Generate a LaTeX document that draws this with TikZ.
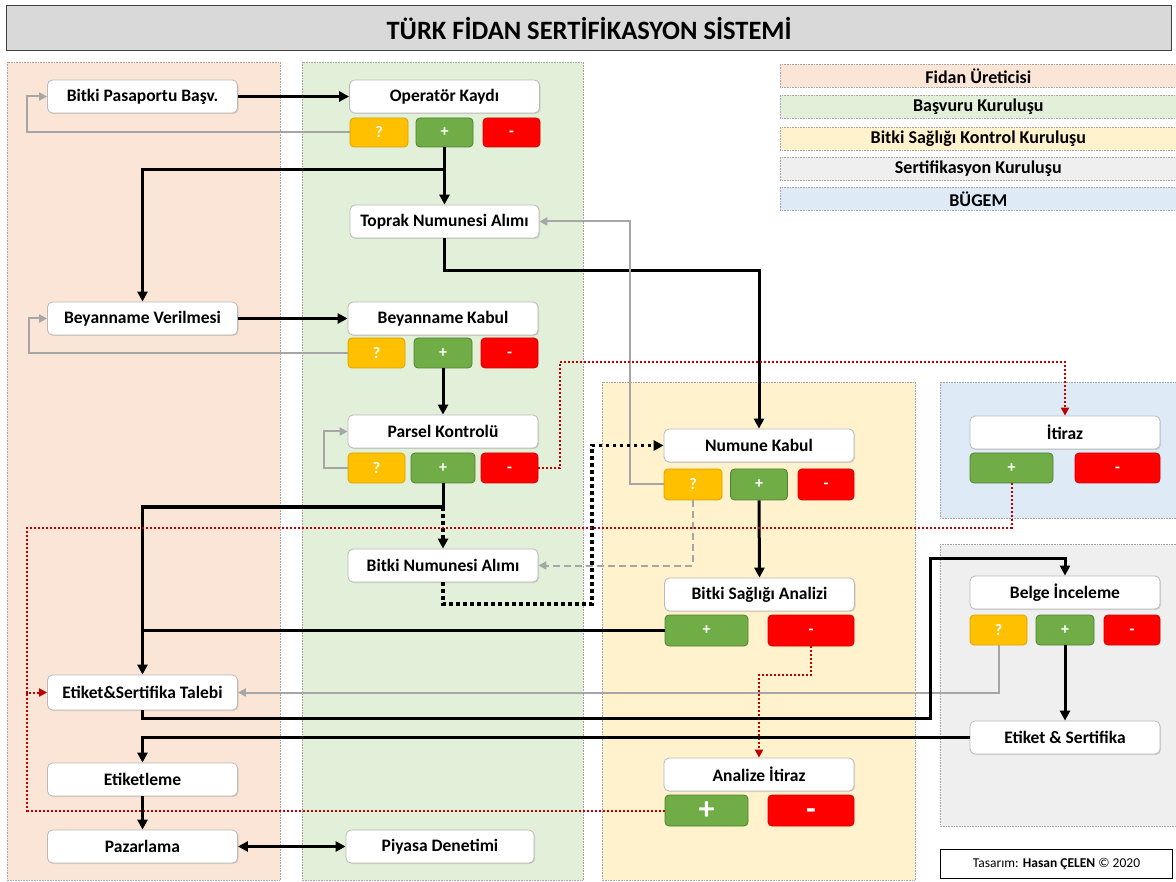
\documentclass[tikz,border=0pt]{standalone}
\usepackage{fontspec}
\setmainfont{Carlito}
\usetikzlibrary{arrows.meta,shadows}
\definecolor{cpeach}{HTML}{FBE5D6}
\definecolor{cgreen}{HTML}{E2F0D9}
\definecolor{cyellow}{HTML}{FFF2CC}
\definecolor{cgrey}{HTML}{EFEFEF}
\definecolor{cblue}{HTML}{DEEBF7}
\definecolor{cq}{HTML}{FFC000}
\definecolor{cqd}{HTML}{D9A300}
\definecolor{cp}{HTML}{70AD47}
\definecolor{cpd}{HTML}{507E32}
\definecolor{cm}{HTML}{FF0000}
\definecolor{cmd}{HTML}{D00000}
\definecolor{cred}{HTML}{C00000}
\definecolor{cline}{HTML}{A6A6A6}
\newcommand{\mns}{\vphantom{+}-}
\begin{document}
\begin{tikzpicture}[x=1pt,y=-1pt,
  lane/.style={draw=gray!70,densely dotted,line width=0.6pt},
  legrow/.style={draw=gray!70,densely dotted,line width=0.6pt,minimum width=396,minimum height=23,inner sep=0pt,font=\bfseries\fontsize{18}{20}\selectfont},
  box/.style={draw=gray!55,fill=white,rounded corners=5pt,line width=0.8pt,minimum width=190,minimum height=33,inner sep=0pt,font=\bfseries\fontsize{17.5}{20}\selectfont,drop shadow={shadow xshift=1pt,shadow yshift=-1pt,opacity=0.25}},
  btn/.style={rounded corners=4pt,line width=0.8pt,inner sep=0pt,text=white,font=\bfseries\fontsize{16}{18}\selectfont,minimum height=30},
  qb/.style={btn,fill=cq,draw=cqd},
  pb/.style={btn,fill=cp,draw=cpd},
  mb/.style={btn,fill=cm,draw=cmd},
  blk/.style={line width=3pt,-{Triangle[length=10pt,width=10pt]}},
  blkn/.style={line width=3pt},
  dotb/.style={line width=3.5pt,dash pattern=on 3.5pt off 3.5pt,-{Triangle[length=10pt,width=10pt]}},
  gry/.style={draw=cline,line width=2pt,-{Triangle[length=8pt,width=8pt]}},
  gryd/.style={draw=cline,line width=2pt,dash pattern=on 7pt off 4pt,-{Triangle[length=8pt,width=8pt]}},
  rdot/.style={draw=cred,line width=2pt,dash pattern=on 2pt off 2pt,-{Triangle[length=8pt,width=8pt]}},
  rdotn/.style={draw=cred,line width=2pt,dash pattern=on 2pt off 2pt}
]
\useasboundingbox (0,0) rectangle (1176,882);
\fill[white] (0,0) rectangle (1176,882);
% title
\node[draw=black!75,fill=black!15,line width=1.2pt,minimum width=1165,minimum height=45,inner sep=0pt,anchor=north west,font=\bfseries\fontsize{26.5}{30}\selectfont] (title) at (6,5) {TÜRK FİDAN SERTİFİKASYON SİSTEMİ};
% lanes
\filldraw[lane,fill=cpeach] (7,62) rectangle (280,880);
\filldraw[lane,fill=cgreen] (302,62) rectangle (583,880);
\filldraw[lane,fill=cyellow] (602,382) rectangle (915,880);
\filldraw[lane,fill=cblue] (940,382) rectangle (1180,518);
\filldraw[lane,fill=cgrey] (940,544) rectangle (1180,826);
% legend
\node[legrow,fill=cpeach,anchor=north west] (lg1) at (780,64) {Fidan Üreticisi};
\node[legrow,fill=cgreen,anchor=north west] (lg2) at (780,95) {Başvuru Kuruluşu};
\node[legrow,fill=cyellow,anchor=north west] (lg3) at (780,127) {Bitki Sağlığı Kontrol Kuruluşu};
\node[legrow,fill=cgrey,anchor=north west] (lg4) at (780,157) {Sertifikasyon Kuruluşu};
\node[legrow,fill=cblue,anchor=north west] (lg5) at (780,187) {BÜGEM};
% credit
\node[draw=black,line width=1pt,minimum width=232,minimum height=29,inner sep=0pt,anchor=north west,font=\fontsize{13.5}{16}\selectfont] (credit) at (940,849) {Tasarım: \textbf{Hasan ÇELEN} © 2020};
% main boxes
\node[box] (bpb) at (142.5,96.5) {Bitki Pasaportu Başv.};
\node[box] (opk) at (444.5,96.5) {Operatör Kaydı};
\node[box,minimum width=189] (tna) at (444.5,221.5) {Toprak Numunesi Alımı};
\node[box] (bv) at (142.5,318.5) {Beyanname Verilmesi};
\node[box] (bk) at (443,318.5) {Beyanname Kabul};
\node[box] (pk) at (443,431.5) {Parsel Kontrolü};
\node[box] (bna) at (443,565.5) {Bitki Numunesi Alımı};
\node[box] (nk) at (759,445.5) {Numune Kabul};
\node[box] (bsa) at (759.5,594.5) {Bitki Sağlığı Analizi};
\node[box] (ai) at (759,774.5) {Analize İtiraz};
\node[box] (it) at (1065,432.5) {İtiraz};
\node[box] (bi) at (1065,592.5) {Belge İnceleme};
\node[box] (es) at (1065,737.5) {Etiket \& Sertifika};
\node[box,minimum height=35] (est) at (142.5,692.5) {Etiket\&Sertifika Talebi};
\node[box] (etl) at (142.5,779.5) {Etiketleme};
\node[box] (paz) at (142.5,846.5) {Pazarlama};
\node[box,minimum width=188] (pd) at (440,846.5) {Piyasa Denetimi};
% buttons
\node[qb,minimum width=58,minimum height=29] (q1) at (379,132.5) {?};
\node[pb,minimum width=57,minimum height=29] (p1) at (444.5,132.5) {+};
\node[mb,minimum width=57,minimum height=29] (m1) at (511.5,132.5) {\mns};
\node[qb,minimum width=57] (q2) at (376.5,353) {?};
\node[pb,minimum width=58] (p2) at (443,353) {+};
\node[mb,minimum width=57] (m2) at (509.5,353) {\mns};
\node[qb,minimum width=57] (q3) at (376.5,468) {?};
\node[pb,minimum width=64] (p3) at (443,468) {+};
\node[mb,minimum width=57] (m3) at (509.5,468) {\mns};
\node[qb,minimum width=58,minimum height=31] (q4) at (693,484.5) {?};
\node[pb,minimum width=57,minimum height=31] (p4) at (759,484.5) {+};
\node[mb,minimum width=56,minimum height=31] (m4) at (826,484.5) {\mns};
\node[pb,minimum width=83,minimum height=31] (p5) at (706.5,630.5) {+};
\node[mb,minimum width=86,minimum height=31] (m5) at (811,630.5) {\mns};
\node[pb,minimum width=83,minimum height=31,font=\bfseries\fontsize{32}{32}\selectfont] (p6) at (706.5,810.5) {+};
\node[mb,minimum width=86,minimum height=31,font=\bfseries\fontsize{32}{32}\selectfont] (m6) at (811,810.5) {\mns};
\node[pb,minimum width=83] (p7) at (1011.5,468) {+};
\node[mb,minimum width=85] (m7) at (1117.5,468) {\mns};
\node[qb,minimum width=57] (q8) at (998.5,630) {?};
\node[pb,minimum width=58] (p8) at (1065,630) {+};
\node[mb,minimum width=56] (m8) at (1132,630) {\mns};
% waypoints
\coordinate (j1) at (444.5,170);
\coordinate (j2) at (443,507);
% connectors
\draw[blk] (bpb.east) -- (opk.west);
\draw[gry] (q1.west) -| (27,96.5) -- (bpb.west);
\draw[blk] (p1.south) -- (tna.north);
\draw[blk] (j1) -| (bv.north);
\draw[blk] (tna.south) -- ++(0,32) -| (nk.north);
\draw[gry] (q4.west) -| (630,221.5) -- (tna.east);
\draw[blk] (bv.east) -- (bk.west);
\draw[gry] (q2.west) -| (29,318.5) -- (bv.west);
\draw[blk] (p2.south) -- (pk.north);
\draw[gry] (q3.west) -| (324,431.5) -- (pk.west);
\draw[rdot] (m3.east) -| (560,362) -| (it.north);
\draw[blk] (p3.south) |- (142.5,507) -- (est.north);
\draw[dotb] (j2) -- (bna.north);
\draw[dotb] (bna.south) |- (592,604) |- (nk.west);
\draw[gryd] (q4.south) |- (bna.east);
\draw[blk] (p4.south) -- (bsa.north);
\draw[blkn] (p5.west) -- (142.5,630.5);
\draw[rdot] (m5.south) -- ++(0,29) -| (ai.north);
\draw[rdot] (p7.south) |- (27,528) |- (est.west);
\draw[rdotn] (p6.west) -| (27,692.5);
\draw[gry] (q8.south) |- (est.east);
\draw[blk] (est.south) -- ++(0,8) -| (930,558) -| (bi.north);
\draw[blk] (p8.south) -- (es.north);
\draw[blk] (es.west) -| (etl.north);
\draw[blk] (etl.south) -- (paz.north);
\draw[line width=3pt,{Triangle[length=10pt,width=10pt]}-{Triangle[length=10pt,width=10pt]}] (paz.east) -- (pd.west);
\end{tikzpicture}
\end{document}
